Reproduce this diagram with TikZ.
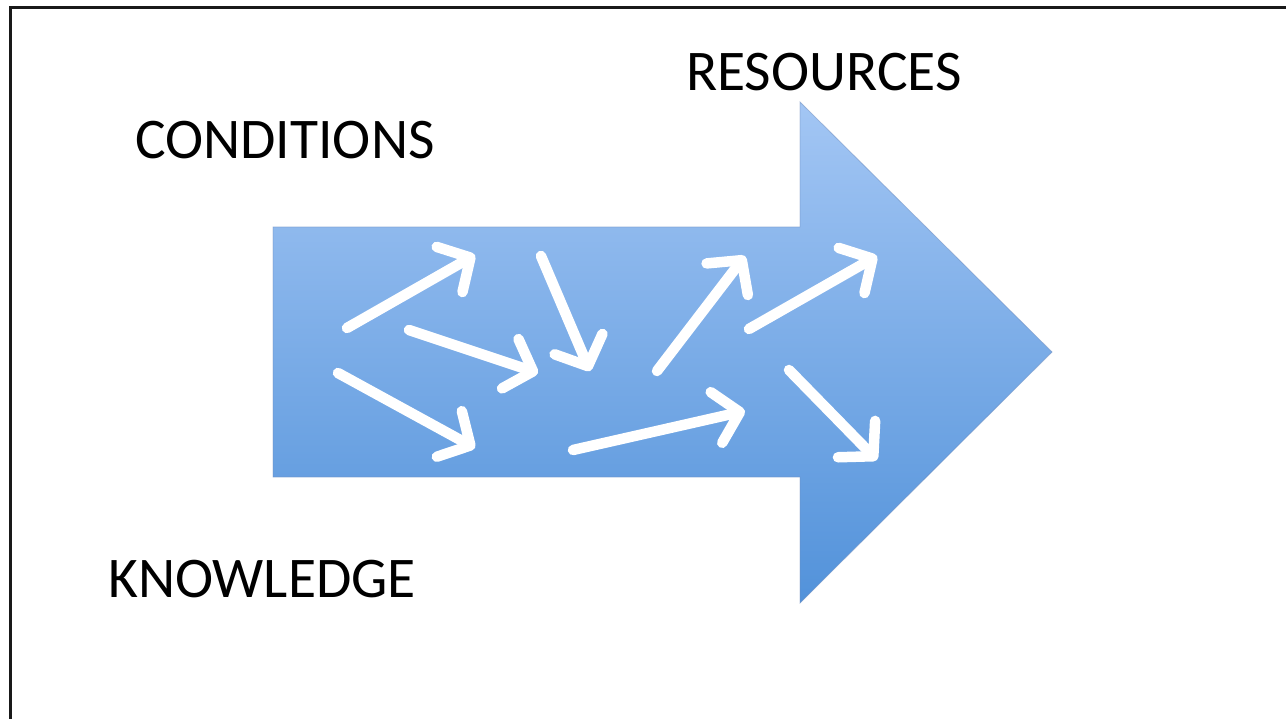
\documentclass[tikz,border=0pt]{standalone}
\usepackage{fontspec}
\setmainfont{Carlito}
\usetikzlibrary{arrows.meta}
\definecolor{arrowtop}{RGB}{163,198,244}
\definecolor{arrowbot}{RGB}{82,146,218}
\definecolor{arrowedge}{RGB}{110,140,190}
\definecolor{framecol}{RGB}{25,25,25}
\tikzset{
  label/.style={inner sep=0pt, anchor=base west, font=\fontsize{57.5}{64}\selectfont},
  flow/.style={white, line width=10.5pt, line cap=round, line join=round,
    -{Straight Barb[length=24pt, width=52pt, line cap=round, line join=round]}},
}
\begin{document}
\begin{tikzpicture}[x=1pt, y=-1pt]
  \useasboundingbox (0,0) rectangle (1286,719);
  \fill[white] (0,0) rectangle (1286,719);
  % frame on top and left
  \draw[framecol, line width=3pt] (10,719) -- (10,8) -- (1286,8);

  % the big block arrow
  \shade[top color=arrowtop, bottom color=arrowbot]
    (273,227) -- (800,227) -- (800,102) -- (1052,352) -- (800,603)
    -- (800,477) -- (273,477) -- cycle;
  \draw[arrowedge, line width=0.8pt, opacity=0.5]
    (273,227) -- (800,227) -- (800,102) -- (1052,352) -- (800,603)
    -- (800,477) -- (273,477) -- cycle;

  % labels
  \node[label] (cond) at (135,159) {CONDITIONS};
  \node[label] (res)  at (686,91)  {RESOURCES};
  \node[label] (know) at (108,597) {KNOWLEDGE};

  % endpoints of the small white arrows
  \coordinate (a1s) at (347,328); \coordinate (a1e) at (475,255);
  \coordinate (a2s) at (409,330); \coordinate (a2e) at (538,373);
  \coordinate (a3s) at (338,373); \coordinate (a3e) at (475,448);
  \coordinate (a4s) at (541,256); \coordinate (a4e) at (590,371);
  \coordinate (a5s) at (657,371); \coordinate (a5e) at (745,256);
  \coordinate (a6s) at (749,329); \coordinate (a6e) at (877,256);
  \coordinate (a7s) at (573,450); \coordinate (a7e) at (745,411);
  \coordinate (a8s) at (789,370); \coordinate (a8e) at (877,460);

  \foreach \i in {1,...,8} {
    \draw[flow] (a\i s) -- (a\i e);
  }
\end{tikzpicture}
\end{document}
